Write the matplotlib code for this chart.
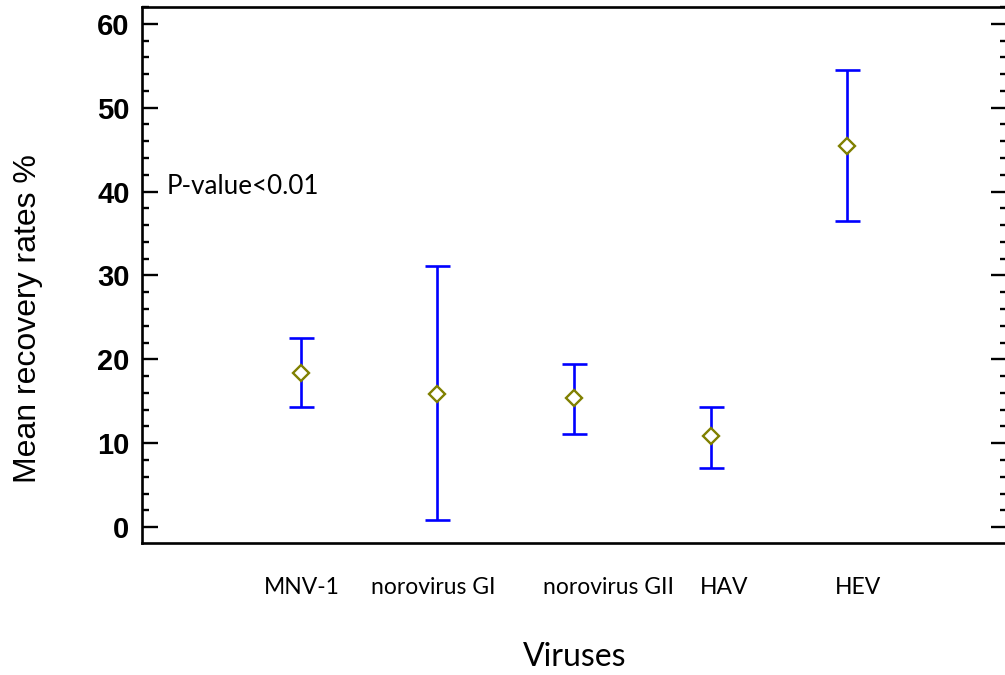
"""Mean recovery rates per virus with intervals."""

import matplotlib
matplotlib.use('Agg')
from matplotlib import pyplot as plt
from matplotlib.transforms import blended_transform_factory
from matplotlib.ticker import MultipleLocator

# Data
VIRUSES = ['MNV-1', 'norovirus GI', 'norovirus GII', 'HAV', 'HEV']
MEANS = [18.4, 15.9, 15.4, 10.8, 45.4]
LOWER = [14.3, 0.8, 11.1, 7.0, 36.5]
UPPER = [22.5, 31.1, 19.4, 14.3, 54.5]

W, H = 1005, 675
LABEL_FONT = 'Lato'

fig = plt.figure(figsize=(W / 100, H / 100), dpi=100)
ax = fig.add_axes([142 / W, 1 - 543 / H, (1006.5 - 142) / W, 536 / H])

x = list(range(1, len(VIRUSES) + 1))
yerr = [[m - lo for m, lo in zip(MEANS, LOWER)],
        [hi - m for m, hi in zip(MEANS, UPPER)]]
ax.errorbar(x, MEANS, yerr=yerr, fmt='none', ecolor='#0000ff',
            elinewidth=1.9, capsize=9, capthick=1.9, zorder=2)
ax.plot(x, MEANS, linestyle='none', marker='D', markersize=8,
        markerfacecolor='white', markeredgecolor='#808000',
        markeredgewidth=1.7, zorder=3)

ax.set_xlim(-0.161, 6.165)
ax.set_ylim(-1.9, 62)

# y ticks: bold numbers, inward ticks both sides
ax.yaxis.set_major_locator(MultipleLocator(10))
ax.yaxis.set_minor_locator(MultipleLocator(2))
ax.tick_params(axis='y', which='major', direction='in', length=11.5,
               width=1.7, pad=9, labelsize=21, left=True, right=True)
ax.tick_params(axis='y', which='minor', direction='in', length=5,
               width=1.7, left=True, right=True)
for lbl in ax.get_yticklabels():
    lbl.set_fontweight('bold')
    lbl.set_family('Liberation Sans')
ax.set_xticks([])

for s in ax.spines.values():
    s.set_linewidth(1.9)

# category labels, placed as in the original (not quite centred)
label_x = [1.01, 1.97, 3.25, 4.10, 5.08]
trans = blended_transform_factory(ax.transData, fig.transFigure)
for lx, name in zip(label_x, VIRUSES):
    ax.text(lx, 1 - 588 / H, name, transform=trans, ha='center',
            va='center', fontsize=16.5, family=LABEL_FONT, clip_on=False)

ax.text(167 / W, 1 - 186 / H, 'P-value<0.01', transform=fig.transFigure,
        ha='left', va='center', fontsize=18.7, family=LABEL_FONT)

fig.text(575 / W, 1 - 657 / H, 'Viruses', ha='center', va='center',
         fontsize=23, family=LABEL_FONT)
fig.text(28 / W, 1 - 319 / H, 'Mean recovery rates %', rotation=90,
         ha='center', va='center', fontsize=23, family='Liberation Sans')

fig.savefig('out.png', dpi=100)
